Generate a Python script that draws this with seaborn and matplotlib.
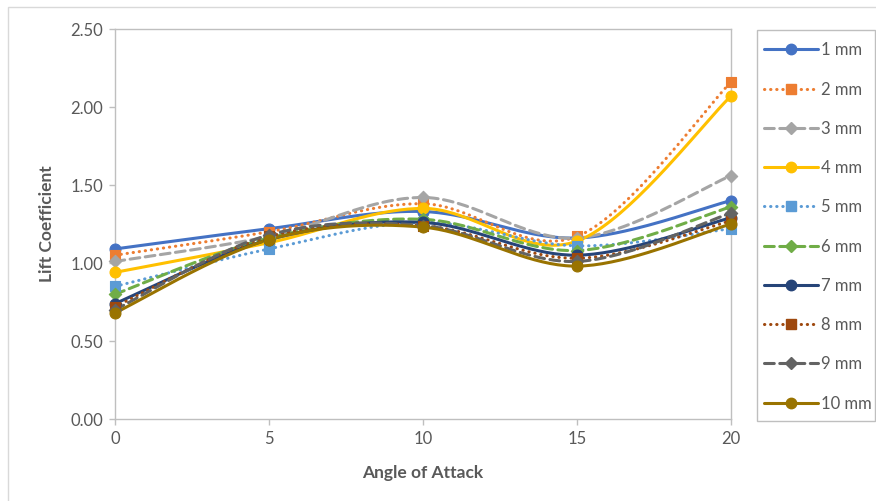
import numpy as np
import pandas as pd
import seaborn as sns
import matplotlib
matplotlib.use("Agg")
import matplotlib.pyplot as plt
from matplotlib.lines import Line2D
from matplotlib.patches import Rectangle

# Angle of attack (deg) and lift coefficient per tip size
angles = [0, 5, 10, 15, 20]
series_names = ["1 mm", "2 mm", "3 mm", "4 mm", "5 mm",
                "6 mm", "7 mm", "8 mm", "9 mm", "10 mm"]
cl_1mm = [1.09, 1.22, 1.33, 1.16, 1.40]
cl_2mm = [1.05, 1.20, 1.38, 1.17, 2.16]
cl_3mm = [1.01, 1.17, 1.42, 1.16, 1.56]
cl_4mm = [0.94, 1.13, 1.35, 1.14, 2.07]
cl_5mm = [0.85, 1.09, 1.26, 1.11, 1.22]
cl_6mm = [0.80, 1.16, 1.28, 1.08, 1.36]
cl_7mm = [0.74, 1.15, 1.26, 1.05, 1.29]
cl_8mm = [0.72, 1.17, 1.24, 1.03, 1.27]
cl_9mm = [0.70, 1.18, 1.24, 1.01, 1.32]
cl_10mm = [0.68, 1.15, 1.23, 0.98, 1.25]
values = [cl_1mm, cl_2mm, cl_3mm, cl_4mm, cl_5mm,
          cl_6mm, cl_7mm, cl_8mm, cl_9mm, cl_10mm]

colors = ["#4472C4", "#ED7D31", "#A5A5A5", "#FFC000", "#5B9BD5",
          "#70AD47", "#264478", "#9E480E", "#636363", "#997300"]
line_styles = ["solid", "dotted", "dashed", "solid", "dotted",
               "dashed", "solid", "dotted", "dashed", "solid"]
marker_shapes = ["o", "s", "D", "o", "s", "D", "o", "s", "D", "o"]

text_color = "#595959"
axis_color = "#BFBFBF"
W, H = 876, 501


def smooth_curve(xs, ys, n=40):
    """Cubic Bezier smoothing through every point (Catmull-Rom tangents)."""
    p = np.column_stack([xs, ys]).astype(float)
    m = len(p)
    out = []
    for i in range(m - 1):
        p0 = p[i - 1] if i > 0 else p[i]
        p1, p2 = p[i], p[i + 1]
        p3 = p[i + 2] if i + 2 < m else p[i + 1]
        c1 = p1 + (p2 - p0) / 6.0
        c2 = p2 - (p3 - p1) / 6.0
        t = np.linspace(0, 1, n, endpoint=(i == m - 2))[:, None]
        seg = ((1 - t) ** 3) * p1 + 3 * ((1 - t) ** 2) * t * c1 \
            + 3 * (1 - t) * t ** 2 * c2 + t ** 3 * p2
        out.append(seg)
    out = np.vstack(out)
    return out[:, 0], out[:, 1]


def dash_for(style):
    if style == "dotted":
        return (0, (0.1, 1.9))
    if style == "dashed":
        return (0, (3.2, 1.8))
    return "solid"


sns.set_theme(style="white")
plt.rcParams["font.family"] = ["Lato", "DejaVu Sans"]

fig = plt.figure(figsize=(W / 100, H / 100), dpi=100)
ax = fig.add_axes([115 / W, 82 / H, 616 / W, 390 / H])

lw = 2.2
for name, ys, col, ls, mk in zip(series_names, values, colors,
                                 line_styles, marker_shapes):
    sx, sy = smooth_curve(angles, ys)
    curve = pd.DataFrame({"angle": sx, "cl": sy})
    sns.lineplot(data=curve, x="angle", y="cl", ax=ax, color=col,
                 linewidth=lw, sort=False, estimator=None,
                 linestyle=dash_for(ls), solid_capstyle="round",
                 dash_capstyle="round", zorder=2)
    pts = pd.DataFrame({"angle": angles, "cl": ys})
    msize = 62 if mk != "D" else 40
    sns.scatterplot(data=pts, x="angle", y="cl", ax=ax, color=col,
                    marker=mk, s=msize, edgecolor=col, linewidth=0.8,
                    zorder=3, clip_on=False)

ax.set_xlim(0, 20)
ax.set_ylim(0, 2.5)
ax.set_xticks(angles)
ax.set_yticks(np.arange(0, 2.51, 0.5))
ax.set_yticklabels([f"{v:.2f}" for v in np.arange(0, 2.51, 0.5)])
for s in ax.spines.values():
    s.set_visible(True)
    s.set_color(axis_color)
    s.set_linewidth(1.0)
ax.tick_params(axis="both", direction="out", length=4.5, width=1.0,
               color=axis_color, labelcolor=text_color, labelsize=12,
               pad=4, bottom=True, left=True)
ax.set_xlabel("Angle of Attack", fontsize=12.5, fontweight="bold",
              color=text_color, labelpad=13)
ax.set_ylabel("Lift Coefficient", fontsize=12.5, fontweight="bold",
              color=text_color, labelpad=11)

# Chart frame
fig.patches.append(Rectangle((8 / W, -0.1), 1.2, (H - 7) / H + 0.1,
                             transform=fig.transFigure, fill=False,
                             edgecolor="#D9D9D9", linewidth=1.0, zorder=0))

# Legend box
fig.patches.append(Rectangle((757 / W, (H - 420.7) / H),
                             (875 - 757) / W, (420.7 - 29.5) / H,
                             transform=fig.transFigure, fill=False,
                             edgecolor=axis_color, linewidth=1.0, zorder=1))

handles = []
for name, col, ls, mk in zip(series_names, colors, line_styles, marker_shapes):
    handles.append(Line2D([0], [0], color=col, linewidth=lw,
                          linestyle=dash_for(ls), marker=mk,
                          markersize=7.5 if mk != "D" else 6,
                          markerfacecolor=col, markeredgecolor=col,
                          dash_capstyle="round", solid_capstyle="round"))
leg_fs = 12
leg = fig.legend(handles, series_names, loc="upper left",
                 bbox_to_anchor=(764 / W, 1 - 42.3 / H),
                 frameon=False, fontsize=leg_fs, labelcolor=text_color,
                 handlelength=54 / (leg_fs * 100 / 72), handletextpad=0.2,
                 labelspacing=1.395, borderpad=0, borderaxespad=0)

fig.savefig("out.png", dpi=100)
